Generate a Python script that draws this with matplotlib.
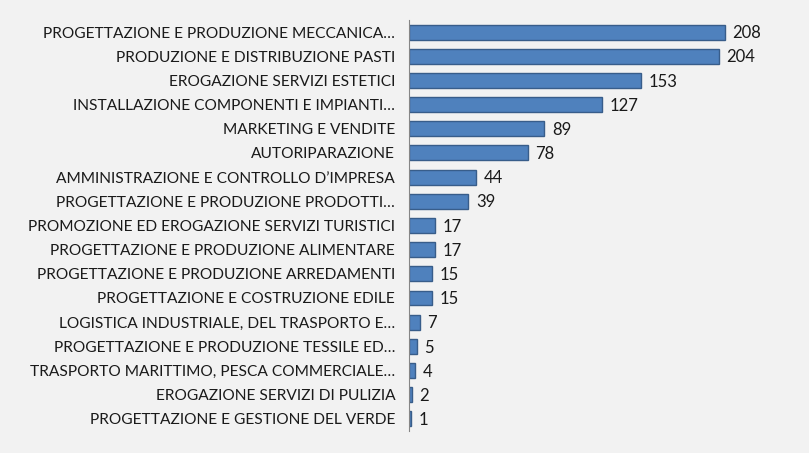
import matplotlib.pyplot as plt

# categories, top to bottom as in the chart
categories = [
    "PROGETTAZIONE E PRODUZIONE MECCANICA…",
    "PRODUZIONE E DISTRIBUZIONE PASTI",
    "EROGAZIONE SERVIZI ESTETICI",
    "INSTALLAZIONE COMPONENTI E IMPIANTI…",
    "MARKETING E VENDITE",
    "AUTORIPARAZIONE",
    "AMMINISTRAZIONE E CONTROLLO D’IMPRESA",
    "PROGETTAZIONE E PRODUZIONE PRODOTTI…",
    "PROMOZIONE ED EROGAZIONE SERVIZI TURISTICI",
    "PROGETTAZIONE E PRODUZIONE ALIMENTARE",
    "PROGETTAZIONE E PRODUZIONE ARREDAMENTI",
    "PROGETTAZIONE E COSTRUZIONE EDILE",
    "LOGISTICA INDUSTRIALE, DEL TRASPORTO E…",
    "PROGETTAZIONE E PRODUZIONE TESSILE ED…",
    "TRASPORTO MARITTIMO, PESCA COMMERCIALE…",
    "EROGAZIONE SERVIZI DI PULIZIA",
    "PROGETTAZIONE E GESTIONE DEL VERDE",
]
values = [208, 204, 153, 127, 89, 78, 44, 39, 17, 17, 15, 15, 7, 5, 4, 2, 1]

plt.rcParams['font.family'] = ['Lato', 'DejaVu Sans']

fig = plt.figure(figsize=(8.09, 4.53), dpi=100)
fig.patch.set_facecolor('#f2f2f2')
ax = fig.add_axes([0.5056, 0.0486, 0.4694, 0.9074])
ax.set_facecolor('#f2f2f2')

ypos = list(range(len(categories)))
ax.barh(ypos, values, height=0.62, color='#4f81bd', edgecolor='#385d8a', linewidth=1)

# value labels to the right of each bar
for y, v in zip(ypos, values):
    ax.text(v + 5, y + 0.05, str(v), va='center', ha='left', fontsize=12, color='#1a1a1a')

ax.set_yticks(ypos)
ax.set_yticklabels(categories, fontsize=11.2, color='#1a1a1a')
ax.set_ylim(len(categories) - 0.5, -0.5)
ax.set_xlim(0, 250)
ax.set_xticks([])
ax.tick_params(axis='y', length=0, pad=10)
for s in ['top', 'right', 'bottom']:
    ax.spines[s].set_visible(False)
ax.spines['left'].set_color('#868686')

fig.savefig('out.png', dpi=100, facecolor=fig.get_facecolor())
